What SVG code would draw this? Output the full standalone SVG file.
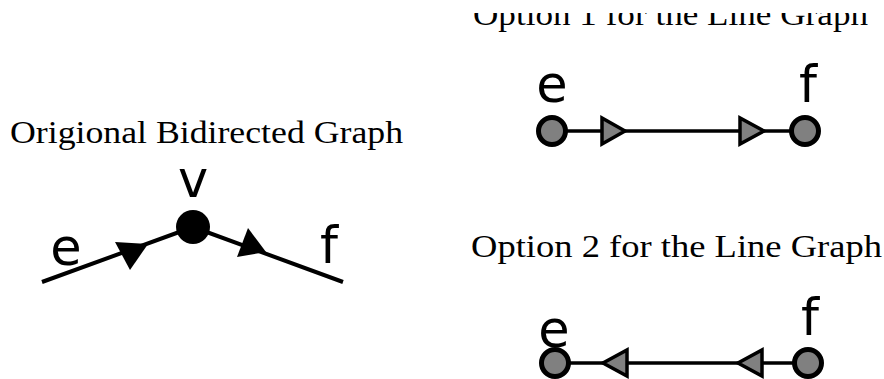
<svg xmlns="http://www.w3.org/2000/svg" width="884" height="379" viewBox="0 0 884 379">
<style>
.title{font-family:"Liberation Serif","Times New Roman",serif;font-size:32px;fill:#000}
.lbl{font-family:"DejaVu Sans",sans-serif;font-size:51px;fill:#000;text-anchor:middle}
.edge{stroke:#000;fill:none}
.ah{fill:#000;stroke:none}
.gah{fill:#808080;stroke:#000;stroke-width:3.5;stroke-linejoin:miter}
.gnode{fill:#808080;stroke:#000;stroke-width:5}
</style>
<defs>
<clipPath id="clipTop"><rect x="0" y="13" width="884" height="40"/></clipPath>
</defs>
<rect width="884" height="379" fill="#fff"/>
<text class="title" x="10" y="143" textLength="393" lengthAdjust="spacingAndGlyphs">Origional Bidirected Graph</text>
<text class="title" x="473" y="25" textLength="395" lengthAdjust="spacingAndGlyphs" clip-path="url(#clipTop)">Option 1 for the Line Graph</text>
<text class="title" x="471" y="257" textLength="411" lengthAdjust="spacingAndGlyphs">Option 2 for the Line Graph</text>
<g id="connectors">
<polyline class="edge" stroke-width="4" points="42,282 193,227 343,282"/>
<polygon class="ah" points="115,242 130,270 148,244"/>
<polygon class="ah" points="248,228 237,257 266,252"/>
<line class="edge" stroke-width="3.5" x1="552" y1="131" x2="805" y2="131"/>
<polygon class="gah" points="602,118 602,144 625,131"/>
<polygon class="gah" points="740,118 740,144 764,131"/>
<line class="edge" stroke-width="3.5" x1="555" y1="363" x2="808" y2="363"/>
<polygon class="gah" points="627,350 627,376 603,363"/>
<polygon class="gah" points="762,350 762,376 738,363"/>
</g>
<g id="node-v">
<circle cx="193" cy="227" r="17" fill="#000"/>
<text class="lbl" x="193" y="197">v</text>
</g>
<g id="label-e-left"><text class="lbl" x="66" y="265">e</text></g>
<g id="label-f-left"><text class="lbl" x="329" y="263">f</text></g>
<g id="node-e1">
<circle class="gnode" cx="552" cy="131" r="13.5"/>
<text class="lbl" x="552" y="102">e</text>
</g>
<g id="node-f1">
<circle class="gnode" cx="805" cy="131" r="13.5"/>
<text class="lbl" x="808" y="102">f</text>
</g>
<g id="node-e2">
<circle class="gnode" cx="555" cy="363" r="13.5"/>
<text class="lbl" x="554" y="347">e</text>
</g>
<g id="node-f2">
<circle class="gnode" cx="808" cy="363" r="13.5"/>
<text class="lbl" x="810" y="335">f</text>
</g>
</svg>
